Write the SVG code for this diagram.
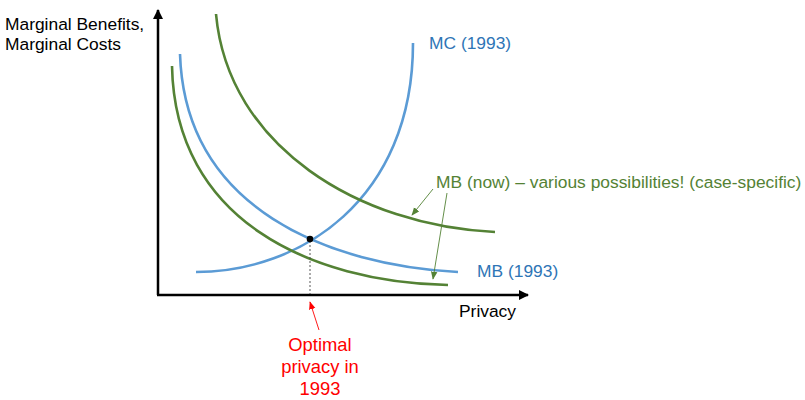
<svg xmlns="http://www.w3.org/2000/svg" width="805" height="400" viewBox="0 0 805 400">
<defs>
<style>
text{font-family:"Liberation Sans",Arial,sans-serif;font-size:17.4px}
.blk{fill:#000}
.blu{fill:#2E75B6}
.grn{fill:#548235}
.red{fill:#FF0000;font-size:18.4px}
.axis{stroke:#000;stroke-width:2.5;fill:none}
.bcur{stroke:#5B9BD5;stroke-width:2.6;fill:none}
.gcur{stroke:#548235;stroke-width:2.6;fill:none}
.gptr{stroke:#548235;stroke-width:0.9;fill:none}
</style>
<marker id="ah" viewBox="0 0 10 10" refX="9" refY="5" markerWidth="4" markerHeight="4" orient="auto" markerUnits="strokeWidth"><path d="M0,0L10,5L0,10z" fill="#000"/></marker>
<marker id="ag" viewBox="0 0 10 10" refX="9" refY="5" markerWidth="9" markerHeight="9" orient="auto" markerUnits="strokeWidth"><path d="M0,1L10,5L0,9z" fill="#548235"/></marker>
<marker id="ar" viewBox="0 0 10 10" refX="9" refY="5" markerWidth="9" markerHeight="9" orient="auto" markerUnits="strokeWidth"><path d="M0,1L10,5L0,9z" fill="#FF0000"/></marker>
</defs>
<g id="axes">
<path class="axis" d="M158,295V10" marker-end="url(#ah)"/>
<path class="axis" d="M157,295H528" marker-end="url(#ah)"/>
</g>
<g id="curves">
<path id="mc1993" class="bcur" d="M196,272C300,272 413,200 413,43"/>
<path id="mb1993" class="bcur" d="M180,54C185,210 330,265 458,272"/>
<path id="mbnow-low" class="gcur" d="M172,66C175,220 310,282 448,285"/>
<path id="mbnow-high" class="gcur" d="M216,14C228,147 360,226 495,232"/>
</g>
<g id="optimum">
<line x1="310" y1="241" x2="310" y2="294" stroke="#444" stroke-width="0.9" stroke-dasharray="2,2"/>
<circle cx="310" cy="239" r="3.3" fill="#000"/>
</g>
<g id="connectors">
<line class="gptr" x1="433" y1="189" x2="412" y2="215" marker-end="url(#ag)"/>
<line class="gptr" x1="447" y1="193" x2="433" y2="279" marker-end="url(#ag)"/>
<line x1="319" y1="330" x2="310" y2="302" stroke="#FF0000" stroke-width="0.9" marker-end="url(#ar)"/>
</g>
<g id="labels">
<text class="blk" x="5" y="29.5">Marginal Benefits,</text>
<text class="blk" x="5" y="50">Marginal Costs</text>
<text class="blu" x="429" y="48.5">MC (1993)</text>
<text class="grn" x="436" y="188">MB (now) – various possibilities! (case-specific)</text>
<text class="blu" x="477" y="276.5">MB (1993)</text>
<text class="blk" x="459" y="317">Privacy</text>
<text class="red" text-anchor="middle" x="320" y="351">Optimal</text>
<text class="red" text-anchor="middle" x="320" y="373">privacy in</text>
<text class="red" text-anchor="middle" x="320" y="395">1993</text>
</g>
</svg>
